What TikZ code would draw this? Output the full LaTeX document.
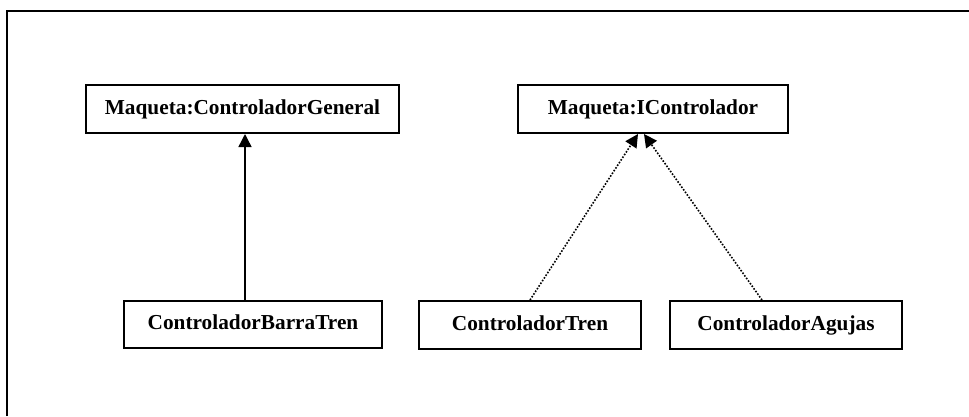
\documentclass[tikz,border=0pt]{standalone}
\usepackage{fontspec}
\setmainfont{Liberation Serif}
\usetikzlibrary{arrows.meta,calc}

\tikzset{
  classbox/.style={draw, line width=2pt, inner sep=0pt, anchor=north west,
    text height=14pt, text depth=4pt,
    font=\fontsize{21.3}{24}\selectfont\bfseries},
  frameline/.style={line width=2pt},
  inherit/.style={line width=1.4pt, -{Triangle[width=13pt,length=13pt]}},
  realize/.style={line width=1.6pt, dash pattern=on 1.6pt off 1.6pt,
    -{Triangle[width=13pt,length=13pt]}}
}

\begin{document}
\begin{tikzpicture}[x=1pt,y=-1pt]
  \useasboundingbox (0,0) rectangle (969,416);

  % open frame: top and left edges only
  \draw[frameline] (7,416) -- (7,11) -- (969,11);

  % classes
  \node[classbox, minimum width=313pt, minimum height=48pt] (general) at (85,84) {Maqueta:ControladorGeneral};
  \node[classbox, minimum width=270pt, minimum height=48pt] (icontrol) at (517,84) {Maqueta:IControlador};
  \node[classbox, minimum width=258pt, minimum height=47pt] (barra) at (123,300) {ControladorBarraTren};
  \node[classbox, minimum width=222pt, minimum height=48pt] (tren) at (418,300) {ControladorTren};
  \node[classbox, minimum width=232pt, minimum height=48pt] (agujas) at (669,300) {ControladorAgujas};

  % attachment points on the interface box
  \coordinate (tipL) at ($(icontrol.south)+(-15,0)$);
  \coordinate (tipR) at ($(icontrol.south)+(-9,0)$);
  \coordinate (agujasTop) at ($(agujas.north)+(-24,0)$);

  % inheritance
  \draw[inherit] ($(general.south |- barra.north)+(2.5,0)$) -- ($(general.south)+(2.5,0)$);

  % interface realisation
  \draw[realize] (tren.north) -- (tipL);
  \draw[realize] (agujasTop) -- (tipR);
\end{tikzpicture}
\end{document}
